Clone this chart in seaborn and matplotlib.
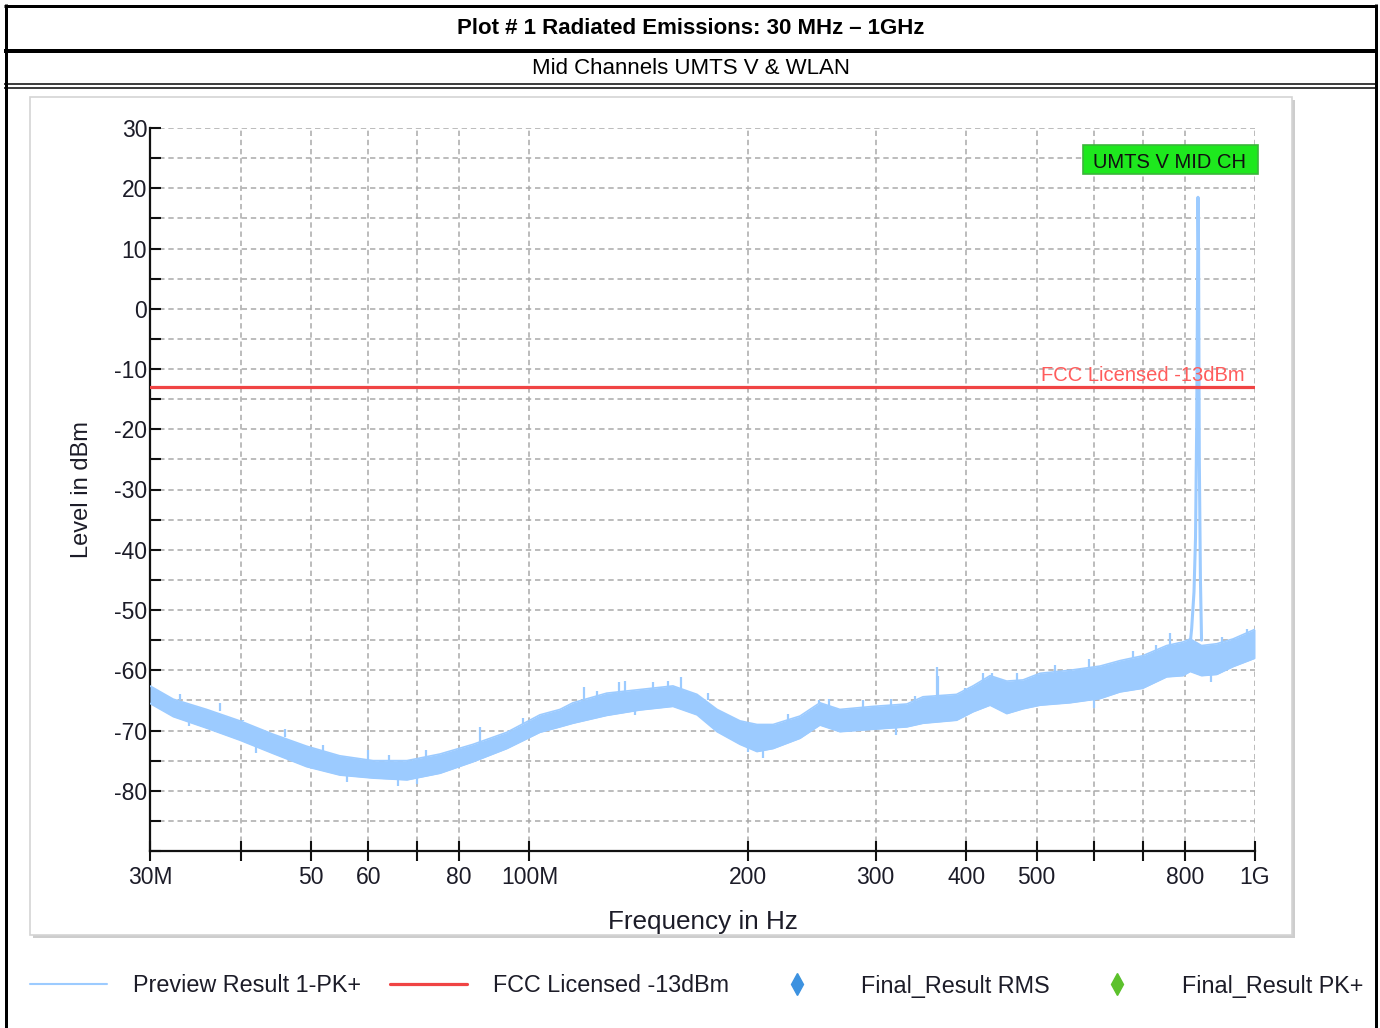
import numpy as np
import pandas as pd
import matplotlib
matplotlib.use("Agg")
import matplotlib.pyplot as plt
import seaborn as sns
from matplotlib.lines import Line2D
from matplotlib.patches import Rectangle
from matplotlib.ticker import FixedLocator, FixedFormatter, NullLocator, MultipleLocator
from matplotlib.transforms import Bbox

# ---------------- data ----------------
band_freq_mhz = [30, 32.3, 35.9, 39.9, 44.3, 49.3, 54.8, 60.9, 67.8, 75.3, 83.6, 93.1,
                 103.4, 110.2, 114.8, 127.8, 142, 157.7, 170.2, 181.4, 195.1, 205.9,
                 216.7, 236, 251.4, 267.9, 297.5, 331.3, 348.7, 387.9, 408.7, 431.4,
                 454.9, 479, 505.6, 556, 611.8, 651.6, 700, 755.6, 795.9, 814, 844,
                 885.6, 932.8, 1000]
band_upper_dbm = [-62.6, -64.8, -66.5, -68.4, -70.6, -72.6, -74.2, -75.0, -75.0, -73.9,
                  -72.3, -70.3, -67.4, -66.5, -65.4, -63.8, -63.2, -62.6, -64.0, -66.5,
                  -68.4, -69.0, -69.0, -67.6, -65.4, -66.5, -66.0, -65.6, -64.4, -64.0,
                  -62.6, -60.9, -61.8, -61.6, -60.5, -60.0, -59.3, -58.4, -57.6, -55.9,
                  -55.3, -54.8, -55.9, -55.6, -54.8, -53.2]
band_lower_dbm = [-65.5, -67.7, -69.6, -71.6, -73.8, -76.0, -77.4, -77.9, -78.2, -77.1,
                  -75.2, -73.0, -70.3, -69.4, -68.8, -67.5, -66.6, -66.0, -67.4, -70.2,
                  -72.3, -73.5, -73.0, -71.3, -69.1, -70.2, -69.8, -69.4, -68.8, -68.3,
                  -66.9, -65.8, -67.2, -66.4, -65.8, -65.4, -64.7, -63.6, -63.0, -61.1,
                  -60.9, -60.2, -60.9, -60.7, -59.4, -58.0]

# short noise excursions above / below the band (frequency, from, to)
spike_freq_mhz = [33.0, 37.5, 40.3, 46.0, 52.0, 60.0, 64.0, 72.0, 85.5, 98.0, 119.0,
                  124.0, 133.0, 135.6, 148.0, 155.0, 162.0, 176.0, 227.0, 251.0, 259.0,
                  288.0, 315.0, 340.0, 364.0, 366.0, 398.0, 422.0, 433.6, 470.0, 530.0,
                  590.0, 680.0, 730.0, 763.6, 788.0, 900.0, 974.0,
                  34.0, 42.0, 56.0, 66.0, 70.0, 90.0, 140.0, 200.0, 210.0, 320.0, 600.0,
                  870.0]
spike_base_dbm = [-65.0, -66.7, -68.5, -71.0, -73.6, -75.0, -75.2, -74.6, -72.0, -69.0,
                  -65.0, -64.8, -64.0, -64.0, -63.5, -63.0, -63.5, -65.0, -69.0, -65.5,
                  -66.0, -66.2, -66.0, -65.2, -64.5, -64.5, -64.2, -62.5, -61.0, -61.7,
                  -60.4, -59.6, -58.0, -57.2, -56.0, -55.4, -55.8, -54.0,
                  -68.0, -72.5, -77.5, -77.9, -77.6, -71.8, -66.2, -72.2, -73.0, -69.4,
                  -64.9, -60.8]
spike_top_dbm = [-64.0, -65.5, -68.3, -69.8, -72.4, -73.3, -74.0, -73.2, -69.4, -68.0,
                 -62.7, -63.5, -62.0, -61.8, -62.0, -61.8, -61.2, -63.8, -67.3, -65.0,
                 -64.8, -65.0, -64.8, -64.2, -59.4, -61.0, -63.0, -60.5, -60.5, -60.4,
                 -59.2, -58.2, -56.8, -55.8, -53.8, -55.3, -54.4, -53.2,
                 -69.2, -73.8, -78.6, -79.2, -78.8, -73.0, -67.4, -73.6, -74.6, -70.8,
                 -66.2, -62.0]

peak_freq_mhz = [812, 818, 824, 828, 831, 833, 834.5, 836, 838, 841, 844]
peak_level_dbm = [-57.0, -53.0, -47.0, -38.0, -20.0, 0.0, 18.5, 10.0, -25.0, -45.0, -55.0]

limit_freq_mhz = [30, 1000]
limit_level_dbm = [-13, -13]

xtick_mhz = [30, 40, 50, 60, 70, 80, 100, 200, 300, 400, 500, 600, 700, 800, 1000]
xtick_labels = ["30M", "", "50", "60", "", "80", "100M", "200", "300", "400", "500",
                "", "", "800", "1G"]
ytick_values = [-80, -70, -60, -50, -40, -30, -20, -10, 0, 10, 20, 30]
legend_labels = ["Preview Result 1-PK+", "FCC Licensed -13dBm", "Final_Result RMS",
                 "Final_Result PK+"]

# ---------------- style ----------------
sns.set_style("white")
plt.rcParams["font.family"] = ["Liberation Sans", "DejaVu Sans"]
plt.rcParams["axes.unicode_minus"] = False

W, H = 1380, 1028
BLUE = "#9ccbff"
RED = "#f04444"
GRID = "#a9a9a9"
TXT = "#1c1c28"

fig = plt.figure(figsize=(W / 100, H / 100), dpi=100)
fig.patch.set_facecolor("white")

# outer frame with shadow
fig.add_artist(Rectangle((33 / W, 1 - 938 / H), 1262 / W, 838 / H, transform=fig.transFigure,
                         fc="#cdcdcd", ec="none", zorder=-3))
fig.add_artist(Rectangle((30 / W, 1 - 935 / H), 1262 / W, 838 / H, transform=fig.transFigure,
                         fc="white", ec="#d4d4d4", lw=1.2, zorder=-2))

ax = fig.add_axes([150 / W, 1 - 851 / H, 1105 / W, 723 / H])
ax.set_facecolor("none")
ax.set_xscale("log")

band = pd.DataFrame({"freq": np.array(band_freq_mhz) * 1e6,
                     "upper": band_upper_dbm, "lower": band_lower_dbm})
ax.fill_between(band["freq"], band["lower"], band["upper"], color=BLUE, lw=0, zorder=3)
sns.lineplot(data=band, x="freq", y="upper", color=BLUE, lw=1.2, ax=ax, zorder=3)
sns.lineplot(data=band, x="freq", y="lower", color=BLUE, lw=1.2, ax=ax, zorder=3)
ax.vlines(np.array(spike_freq_mhz) * 1e6, spike_base_dbm, spike_top_dbm,
          color=BLUE, lw=1.6, zorder=3)
peak = pd.DataFrame({"freq": np.array(peak_freq_mhz) * 1e6, "level": peak_level_dbm})
sns.lineplot(data=peak, x="freq", y="level", color=BLUE, lw=2.2, ax=ax, sort=False, zorder=4)

limit = pd.DataFrame({"freq": np.array(limit_freq_mhz) * 1e6, "level": limit_level_dbm})
sns.lineplot(data=limit, x="freq", y="level", color=RED, lw=2.3, ax=ax, zorder=5)

ax.set_xlim(30e6, 1e9)
ax.set_ylim(-90, 30)

ax.xaxis.set_major_locator(FixedLocator(np.array(xtick_mhz) * 1e6))
ax.xaxis.set_major_formatter(FixedFormatter(xtick_labels))
ax.xaxis.set_minor_locator(NullLocator())
ax.yaxis.set_major_locator(FixedLocator(ytick_values))
ax.yaxis.set_major_formatter(FixedFormatter([str(v) for v in ytick_values]))
ax.yaxis.set_minor_locator(MultipleLocator(5))

ax.grid(True, axis="x", which="major", color=GRID, ls=(0, (3.5, 2.5)), lw=1.1, zorder=1)
ax.grid(True, axis="y", which="both", color=GRID, ls=(0, (3.5, 2.5)), lw=1.1, zorder=1)

for s in ["top", "right"]:
    ax.spines[s].set_visible(False)
for s in ["left", "bottom"]:
    ax.spines[s].set_color("#111111")
    ax.spines[s].set_linewidth(1.6)

ax.tick_params(axis="y", which="both", direction="in", length=8, width=1.5,
               color="#111111", pad=2, labelsize=16.5, labelcolor=TXT, left=True)
ax.tick_params(axis="x", which="major", direction="inout", length=14, width=1.5,
               color="#111111", pad=4, labelsize=16.5, labelcolor=TXT, bottom=True)

ax.set_xlabel("Frequency in Hz", fontsize=18.8, color=TXT, labelpad=15)
ax.set_ylabel("Level in dBm", fontsize=17, color=TXT, labelpad=15)

# annotations
ax.add_patch(Rectangle((0.8443, 0.9364), 0.1584, 0.0401, transform=ax.transAxes,
                       fc="#1ee81e", ec="#3bb53b", lw=1.2, zorder=6, clip_on=False))
ax.text(0.923, 0.9525, "UMTS V MID CH", transform=ax.transAxes, ha="center", va="center",
        fontsize=14.5, color="#101010", zorder=7)
ax.text(0.991, 0.657, "FCC Licensed -13dBm", transform=ax.transAxes, ha="right",
        va="center", fontsize=14.5, color="#ff5c5c", zorder=7)

# legend
handles = [Line2D([], [], color=BLUE, lw=1.5),
           Line2D([], [], color=RED, lw=2.3),
           Line2D([], [], color="#3d92e0", marker="d", ls="", ms=11),
           Line2D([], [], color="#5cc12c", marker="d", ls="", ms=11)]
leg = fig.legend(handles, legend_labels, loc="center left",
                 bbox_to_anchor=(30 / W, 1 - 986 / H), ncol=4, frameon=False,
                 fontsize=16.8, handlelength=3.3, handletextpad=1.12, columnspacing=1.24,
                 borderpad=0, borderaxespad=0)
for t in leg.get_texts():
    t.set_color(TXT)
leg.get_texts()[3].set_clip_box(Bbox.from_extents(0, 0, 1364, H))
leg.get_texts()[3].set_clip_on(True)

# header table
def hline(y, x0, x1, lwpx):
    fig.add_artist(Line2D([x0 / W, x1 / W], [1 - y / H, 1 - y / H], transform=fig.transFigure,
                          color="black", lw=lwpx * 0.72, solid_capstyle="butt"))

def vline(x, y0, y1, lwpx):
    fig.add_artist(Line2D([x / W, x / W], [1 - y0 / H, 1 - y1 / H], transform=fig.transFigure,
                          color="black", lw=lwpx * 0.72, solid_capstyle="butt"))

hline(5.5, 4, 1377, 3)
hline(51, 4, 1377, 4)
hline(84, 4, 1377, 1.5)
hline(87.5, 4, 1377, 1.5)
vline(5.5, 4, 1028, 3)
vline(1375.5, 4, 1028, 3)

fig.text(691 / W, 1 - 28 / H, "Plot # 1 Radiated Emissions: 30 MHz \u2013 1GHz",
         ha="center", va="center", fontsize=16, fontweight="bold",
         family=["Liberation Sans", "DejaVu Sans"], color="black")
fig.text(691 / W, 1 - 69 / H, "Mid Channels UMTS V & WLAN", ha="center", va="center",
         fontsize=16, family=["Liberation Sans", "DejaVu Sans"], color="black")

fig.savefig("out.png", dpi=100, facecolor="white")
